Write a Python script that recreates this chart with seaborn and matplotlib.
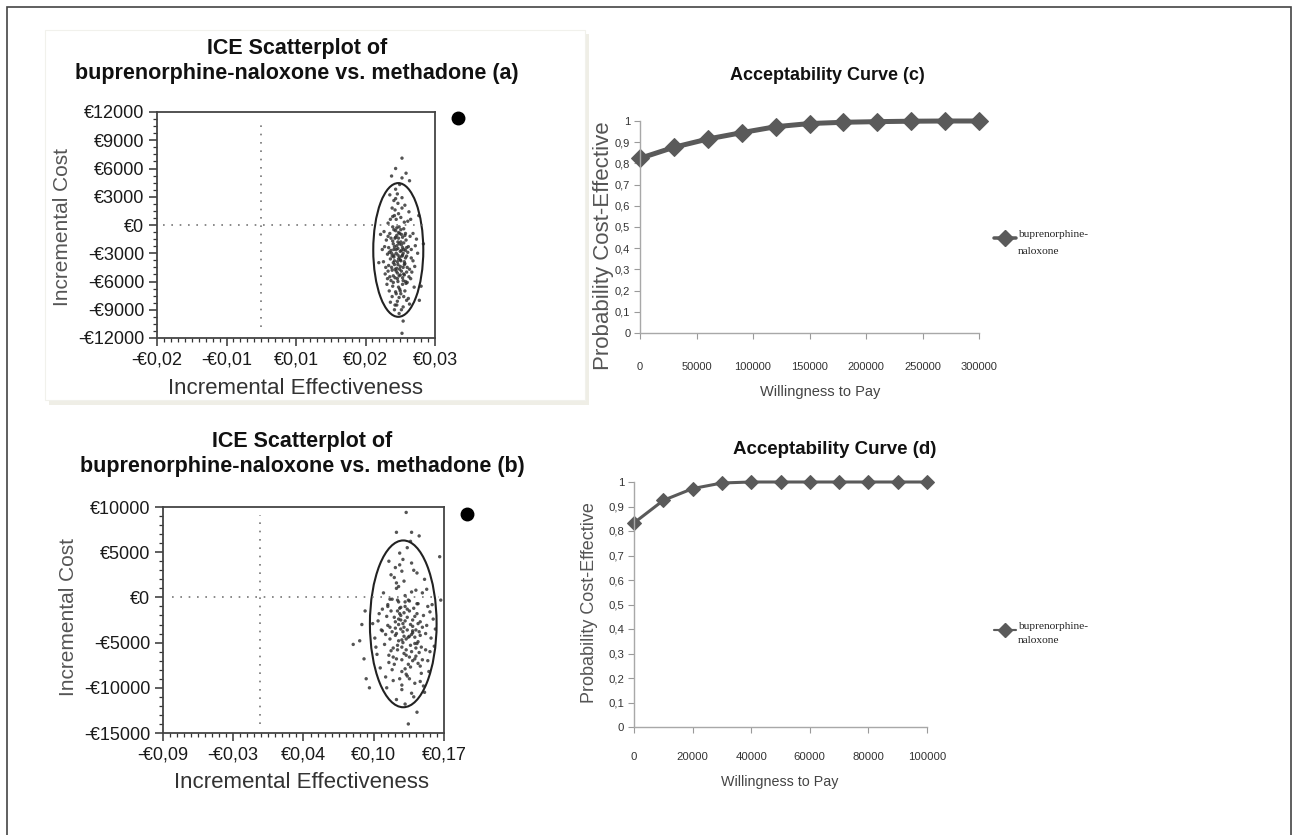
import matplotlib
matplotlib.use("Agg")
import matplotlib.pyplot as plt
from matplotlib.patches import Ellipse, Rectangle
from matplotlib.lines import Line2D
from matplotlib.ticker import AutoMinorLocator
import seaborn as sns

W, H = 1293, 835

# ---- data: ICE scatter (a) ----
ice_a_x = [0.0236, 0.0241, 0.0229, 0.0248, 0.0222, 0.0253, 0.0233, 0.0244, 0.0218, 0.0239,
           0.0226, 0.0257, 0.0231, 0.0247, 0.0214, 0.0262, 0.0235, 0.0243, 0.0221, 0.0250,
           0.0228, 0.0238, 0.0255, 0.0216, 0.0246, 0.0232, 0.0260, 0.0224, 0.0240, 0.0249,
           0.0211, 0.0266, 0.0234, 0.0227, 0.0252, 0.0237, 0.0219, 0.0245, 0.0230, 0.0258,
           0.0242, 0.0225, 0.0251, 0.0213, 0.0264, 0.0236, 0.0229, 0.0247, 0.0233, 0.0220,
           0.0254, 0.0239, 0.0223, 0.0259, 0.0241, 0.0217, 0.0248, 0.0231, 0.0244, 0.0226,
           0.0262, 0.0235, 0.0209, 0.0270, 0.0238, 0.0243, 0.0222, 0.0256, 0.0232, 0.0246,
           0.0228, 0.0240, 0.0219, 0.0253, 0.0237, 0.0230, 0.0249, 0.0215, 0.0265, 0.0234,
           0.0227, 0.0251, 0.0242, 0.0224, 0.0258, 0.0236, 0.0212, 0.0268, 0.0245, 0.0231,
           0.0243, 0.0232, 0.0250, 0.0203, 0.0280, 0.0276, 0.0245, 0.0243, 0.0256, 0.0225,
           0.0206, 0.0272, 0.0273,
           0.0233, 0.0240, 0.0227, 0.0246, 0.0235, 0.0242, 0.0230, 0.0251, 0.0223, 0.0238,
           0.0244, 0.0229, 0.0236, 0.0249, 0.0225, 0.0241, 0.0232, 0.0254, 0.0220, 0.0239,
           0.0247, 0.0234, 0.0228, 0.0243, 0.0237, 0.0250, 0.0226, 0.0245, 0.0231, 0.0240,
           0.0235, 0.0222, 0.0248, 0.0233, 0.0242, 0.0229, 0.0256, 0.0238, 0.0224, 0.0246,
           0.0236, 0.0231, 0.0252, 0.0219, 0.0244, 0.0227, 0.0240, 0.0233, 0.0249, 0.0237,
           0.0230, 0.0243, 0.0221, 0.0255, 0.0239, 0.0234, 0.0226, 0.0247, 0.0241, 0.0232,
           0.0218, 0.0259, 0.0236, 0.0245, 0.0228, 0.0251, 0.0235, 0.0242, 0.0223, 0.0248,
           0.0230, 0.0239, 0.0244, 0.0234, 0.0238, 0.0241, 0.0232, 0.0246, 0.0229, 0.0237]
ice_a_y = [-2500, -1800, -3400, -4100, -900, -2900, 600, -5600, -3100, -6800,
           1800, -1200, -4700, 300, -5200, -3800, -8100, 2900, -7000, -6200,
           -2000, -200, 1400, -1600, -7600, 3800, -5000, -5900, -3700, -900,
           -3900, -2200, -1100, -6500, -4500, 1200, 200, -8700, -9000, 600,
           -2700, -3000, -3300, -2300, -6600, -4200, 2600, -5300, -7300, -4300,
           -7800, 4300, -8200, -3500, -500, -6300, 2100, -1400, -3200, -4800,
           -900, -5700, -2600, -3000, -9400, 5000, 3200, -8400, -600, -1900,
           -5400, -7000, -1200, 400, -3600, 1000, -6000, -4500, -4400, -2200,
           -200, -2400, -4900, -2700, -5700, 2300, -700, -1500, -3000, -8500,
           7100, 6000, 5500, -4000, -2000, -6500, -10200, -11500, 4700, 5200,
           -1000, 1000, -8000,
           -3000, -4400, -1700, -2600, -5100, -1000, -3800, -5000, -3600, -2000,
           -6300, -500, -6000, -3500, -4500, 800, -7100, -2300, -2400, -4700,
           -4200, -300, -6100, -3300, -1400, -1600, -3300, -5900, 1600, -2800,
           -3900, -5500, -7000, -4900, -2100, -2600, -4700, -7700, -1400, -400,
           -3200, -5600, -6100, -4900, -1300, 900, -5300, -2600, -2700, -6600,
           -4200, 1800, -2900, -5500, -900, -8500, -7600, -3900, -7300, 2800,
           -5700, -2600, -1800, -4500, -4000, -8000, 3300, -9000, 600, -1100,
           -2300, -3400, -2400, -4600, -5400, -3800, -1300, -5200, -3200, -800]

# ---- data: ICE scatter (b) ----
ice_b_x = [0.132, 0.138, 0.125, 0.145, 0.118, 0.150, 0.128, 0.141, 0.112, 0.135,
           0.121, 0.155, 0.127, 0.144, 0.108, 0.158, 0.131, 0.140, 0.116, 0.148,
           0.124, 0.134, 0.152, 0.110, 0.143, 0.129, 0.157, 0.119, 0.137, 0.146,
           0.106, 0.160, 0.130, 0.122, 0.149, 0.133, 0.114, 0.142, 0.126, 0.154,
           0.139, 0.120, 0.147, 0.109, 0.156, 0.132, 0.125, 0.144, 0.129, 0.115,
           0.151, 0.136, 0.117, 0.153, 0.138, 0.111, 0.145, 0.127, 0.141, 0.121,
           0.159, 0.131, 0.104, 0.162, 0.134, 0.139, 0.119, 0.152, 0.128, 0.143,
           0.123, 0.136, 0.113, 0.150, 0.133, 0.126, 0.146, 0.107, 0.161, 0.130,
           0.122, 0.148, 0.140, 0.118, 0.155, 0.131,
           0.086, 0.094, 0.092, 0.097, 0.096, 0.135, 0.126, 0.140, 0.147, 0.167,
           0.166, 0.101, 0.137, 0.145, 0.098,
           0.130, 0.136, 0.128, 0.141, 0.133, 0.125, 0.139, 0.146, 0.120, 0.134,
           0.143, 0.127, 0.137, 0.148, 0.123, 0.140, 0.131, 0.151, 0.117, 0.135,
           0.144, 0.129, 0.124, 0.142, 0.132, 0.147, 0.121, 0.138, 0.126, 0.135,
           0.131, 0.119, 0.149, 0.134, 0.140, 0.128, 0.153, 0.137, 0.122, 0.145,
           0.133, 0.126, 0.150, 0.116, 0.141, 0.124, 0.138, 0.130, 0.146, 0.134,
           0.127, 0.142, 0.118, 0.154, 0.136, 0.131, 0.123, 0.144, 0.139, 0.129,
           0.113, 0.157, 0.133, 0.143, 0.125, 0.148, 0.132, 0.140, 0.120, 0.145,
           0.128, 0.136, 0.141, 0.131, 0.135, 0.138, 0.129, 0.143, 0.126, 0.134]
ice_b_y = [-2900, -1500, -4200, -5100, -800, -3300, 1200, -7000, -3600, -8500,
           2500, -1000, -5800, 800, -6300, -4500, -10200, 3800, -8800, -7600,
           -2200, 200, 2000, -1800, -9500, 4900, -6000, -7200, -4400, -700,
           -4500, -2400, -1100, -8000, -5500, 1800, 500, -11000, -11300, 900,
           -3000, -3300, -3800, -2600, -8200, -5000, 3300, -6500, -9000, -5200,
           -9800, 5500, -10000, -4000, -400, -7800, 2700, -1500, -3700, -5900,
           -800, -6900, -2900, -3500, -11800, 6200, 4000, -10500, -500, -2100,
           -6600, -8700, -1300, 500, -4300, 1000, -7300, -5500, -5400, -2500,
           -200, -2700, -6000, -3100, -7000, 2900,
           -5200, -3000, -4800, -1500, -6800, 9400, 7200, 7200, 6800, -300,
           4500, -10000, -14000, -12700, -9000,
           -3500, -2200, -4800, -3900, -6200, -2700, -5300, -2900, -4600, -1000,
           -6800, -300, -7400, -4200, -5600, 600, -8200, -2000, -2100, -4600,
           -3600, -1800, -7400, -1200, -3800, -6100, -1500, -9000, 1600, -5800,
           -4700, -6400, -8400, -2600, -4100, -3000, -5800, -300, -3800, -700,
           -3300, -6800, -6900, -4100, -2500, 2200, -6600, -2000, -4900, -7900,
           -5300, 3000, -1000, -3100, -1300, -9700, -9200, -5600, -7700, 3600,
           -3700, -1600, -1700, -4400, -3400, -9300, 4200, -10600, -200, -1800,
           -2400, -3600, -3200, -5500, -6400, -4300, -1200, -5100, -4000, -500]

# 95% ellipses: (center x, center y, width, height)
ell_a = (0.02366, -2650, 0.00864, 14200)
ell_b = (0.1323, -2925, 0.0617, 18450)

# axis ticks for the scatter plots
ticks_a_x = [-0.018, -0.006, 0.006, 0.018, 0.030]
labels_a_x = ["-€0,02", "-€0,01", "€0,01", "€0,02", "€0,03"]
ticks_a_y = [-12000, -9000, -6000, -3000, 0, 3000, 6000, 9000, 12000]
labels_a_y = ["-€12000", "-€9000", "-€6000", "-€3000", "€0", "€3000", "€6000", "€9000", "€12000"]
ticks_b_x = [-0.09, -0.025, 0.04, 0.105, 0.17]
labels_b_x = ["-€0,09", "-€0,03", "€0,04", "€0,10", "€0,17"]
ticks_b_y = [-15000, -10000, -5000, 0, 5000, 10000]
labels_b_y = ["-€15000", "-€10000", "-€5000", "€0", "€5000", "€10000"]

# ---- data: acceptability curves ----
wtp_c = [0, 30000, 60000, 90000, 120000, 150000, 180000, 210000, 240000, 270000, 300000]
prob_c = [0.824, 0.876, 0.915, 0.945, 0.973, 0.988, 0.994, 0.997, 0.999, 1.0, 1.0]
wtp_d = [0, 10000, 20000, 30000, 40000, 50000, 60000, 70000, 80000, 90000, 100000]
prob_d = [0.833, 0.925, 0.973, 0.996, 1.0, 1.0, 1.0, 1.0, 1.0, 1.0, 1.0]
prob_ticks = [0, 0.1, 0.2, 0.3, 0.4, 0.5, 0.6, 0.7, 0.8, 0.9, 1.0]
prob_labels = ["0", "0,1", "0,2", "0,3", "0,4", "0,5", "0,6", "0,7", "0,8", "0,9", "1"]
series_label = "buprenorphine-\nnaloxone"

sns.set_theme(style="white")
plt.rcParams["font.family"] = ["Liberation Sans", "DejaVu Sans"]
NARROW = ["Liberation Sans Narrow", "Liberation Sans", "DejaVu Sans"]
SERIF = ["Liberation Serif", "DejaVu Serif"]
CURVE = "#5a5a5a"


def fx(x):
    return x / W


def fy(y):
    return 1 - y / H


def box(left, top, right, bottom):
    return [fx(left), fy(bottom), (right - left) / W, (bottom - top) / H]


fig = plt.figure(figsize=(W / 100, H / 100), dpi=100)

# outer frame and the shadowed box behind panel (a)
fig.add_artist(Rectangle((fx(7), fy(850)), (1291 - 7) / W, 843 / H, transform=fig.transFigure,
                         fill=False, edgecolor="#444444", linewidth=1.2, zorder=-3))
fig.add_artist(Rectangle((fx(49), fy(405)), 540 / W, 371 / H, transform=fig.transFigure,
                         facecolor="#efeee6", edgecolor="none", zorder=-2))
fig.add_artist(Rectangle((fx(45), fy(400)), 540 / W, 370 / H, transform=fig.transFigure,
                         facecolor="white", edgecolor="#f1f1ec", linewidth=0.8, zorder=-1))


def ice_panel(rect, xs, ys, ell, tx, tlx, ty, tly, yminor, vline, hline,
              title_xy, ylab_xy, xlab_xy, dot_xy):
    ax = fig.add_axes(rect)
    ax.patch.set_alpha(0)
    sns.scatterplot(x=xs, y=ys, s=6, color="#2a2a2a", edgecolor="none", linewidth=0,
                    alpha=0.8, ax=ax)
    ax.add_patch(Ellipse((ell[0], ell[1]), ell[2], ell[3], fill=False,
                         edgecolor="#222222", linewidth=1.5))
    ax.vlines(0, vline[0], vline[1], colors="#777777", linestyles=(0, (1, 4)), linewidth=1.2)
    ax.hlines(0, hline[0], hline[1], colors="#777777", linestyles=(0, (1, 4)), linewidth=1.2)
    ax.set_xlim(tx[0], tx[-1])
    ax.set_ylim(ty[0], ty[-1])
    ax.set_xticks(tx)
    ax.set_xticklabels(tlx, fontsize=13, color="#1a1a1a")
    ax.set_yticks(ty)
    ax.set_yticklabels(tly, fontsize=13, color="#1a1a1a")
    ax.xaxis.set_minor_locator(AutoMinorLocator(10))
    ax.yaxis.set_minor_locator(AutoMinorLocator(yminor))
    ax.tick_params(which="major", direction="out", length=6, width=1.1, color="#333333",
                   bottom=True, left=True, pad=3)
    ax.tick_params(which="minor", direction="out", length=3, width=0.9, color="#333333",
                   bottom=True, left=True)
    ax.tick_params(axis="x", pad=4)
    for sp in ax.spines.values():
        sp.set_color("#444444")
        sp.set_linewidth(1.3)
    ax.set_xlabel("")
    ax.set_ylabel("")
    fig.text(fx(title_xy[0]), fy(title_xy[1]),
             "ICE Scatterplot of\nbuprenorphine-naloxone vs. methadone " + title_xy[2],
             ha="center", va="center", fontsize=15.5, fontweight="bold", linespacing=1.3,
             color="#111111")
    fig.text(fx(ylab_xy[0]), fy(ylab_xy[1]), "Incremental Cost", rotation=90,
             ha="center", va="center", fontsize=15, color="#555555")
    fig.text(fx(xlab_xy[0]), fy(xlab_xy[1]), "Incremental Effectiveness",
             ha="center", va="center", fontsize=16, color="#333333")
    fig.add_artist(Line2D([fx(dot_xy[0])], [fy(dot_xy[1])], transform=fig.transFigure,
                          marker="o", markersize=9, color="black", linestyle="none"))
    return ax


ice_panel(box(157, 112, 435, 338), ice_a_x, ice_a_y, ell_a,
          ticks_a_x, labels_a_x, ticks_a_y, labels_a_y, 4,
          (-10800, 11000), (-0.017, 0.029),
          (297, 61, "(a)"), (62, 227), (295, 388), (458, 118))
ice_panel(box(163, 507, 444, 733), ice_b_x, ice_b_y, ell_b,
          ticks_b_x, labels_b_x, ticks_b_y, labels_b_y, 5,
          (-14000, 9100), (-0.082, 0.165),
          (302, 454, "(b)"), (68, 617), (302, 783), (467, 514))


def curve_panel(rect, xs, ys, xmax, xstep, lw, ms, title, tsize, title_xy,
                ylab_xy, ylsize, xlab_xy, xlsize, ticksize, xpad, leg_xy, leg_ls):
    ax = fig.add_axes(rect)
    sns.lineplot(x=xs, y=ys, color=CURVE, linewidth=lw, marker="D", markersize=ms,
                 markeredgecolor=CURVE, ax=ax, clip_on=False)
    ax.set_xlim(0, xmax)
    ax.set_ylim(0, 1)
    ax.set_xticks(list(range(0, xmax + 1, xstep)))
    ax.set_xticklabels([str(v) for v in range(0, xmax + 1, xstep)],
                       fontsize=ticksize, family=NARROW, color="#333333")
    ax.set_yticks(prob_ticks)
    ax.set_yticklabels(prob_labels, fontsize=ticksize, family=NARROW, color="#333333")
    ax.tick_params(axis="both", direction="out", length=4, width=0.8, color="#9a9a9a",
                   bottom=True, left=True)
    ax.tick_params(axis="x", pad=xpad)
    ax.tick_params(axis="y", pad=3)
    for side in ("top", "right"):
        ax.spines[side].set_visible(False)
    for side in ("left", "bottom"):
        ax.spines[side].set_color("#a8a8a8")
        ax.spines[side].set_linewidth(1.0)
    ax.set_xlabel("")
    ax.set_ylabel("")
    fig.text(fx(title_xy[0]), fy(title_xy[1]), title, ha="center", va="center",
             fontsize=tsize, fontweight="bold", family=NARROW, color="#111111")
    fig.text(fx(ylab_xy[0]), fy(ylab_xy[1]), "Probability Cost-Effective", rotation=90,
             ha="center", va="center", fontsize=ylsize, color="#555555")
    fig.text(fx(xlab_xy[0]), fy(xlab_xy[1]), "Willingness to Pay", ha="center", va="center",
             fontsize=xlsize, family=NARROW, color="#444444")
    # legend glyph and label to the right
    lx, ly = leg_xy
    fig.add_artist(Line2D([fx(lx - 22), fx(lx - 11), fx(lx)], [fy(ly)] * 3,
                          transform=fig.transFigure, color=CURVE, linewidth=lw * 0.7,
                          marker="D", markersize=ms * 0.9, markevery=[1]))
    fig.text(fx(lx + 2), fy(ly - 8), series_label, ha="left", va="top", fontsize=8.2,
             family=SERIF, color="#222222", linespacing=leg_ls)
    return ax


curve_panel(box(640, 121, 979, 333), wtp_c, prob_c, 300000, 50000, 3.6, 9.5,
            "Acceptability Curve (c)", 13, (827, 75), (603, 246), 16, (820, 392), 10.5,
            8, 17, (1016, 238), 2.1)
curve_panel(box(634, 482, 927, 727), wtp_d, prob_d, 100000, 20000, 2.2, 7.5,
            "Acceptability Curve (d)", 13.5, (835, 450), (589, 603), 13, (780, 782), 10.3,
            8.2, 14, (1016, 630), 1.75)

fig.savefig("out.png", dpi=100)
